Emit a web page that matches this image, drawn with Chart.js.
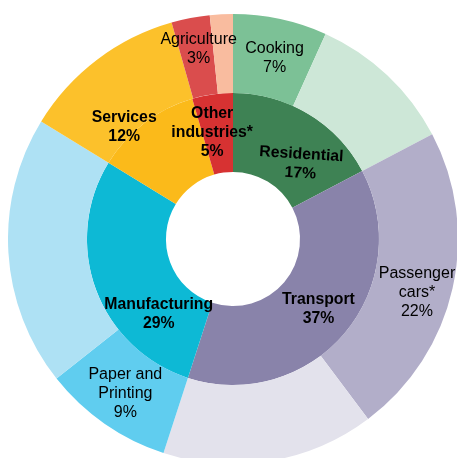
<!DOCTYPE html>
<html>
<head>
<meta charset="utf-8">
<script src="https://cdn.jsdelivr.net/npm/chart.js@4/dist/chart.umd.min.js"></script>
<style>
  html, body { margin: 0; padding: 0; background: #fff; overflow: hidden; width: 457px; height: 458px; }
  #wrap { position: absolute; left: 8px; top: 14px; width: 450px; height: 450px; }
</style>
</head>
<body>
<div id="wrap"><canvas id="chart"></canvas></div>
<script>
'use strict';

// ─── 데이터: 안쪽 링 (부문, 그림에서 읽은 각도 기준 %) ──────────────────────
const innerLabels = ['Residential', 'Transport', 'Manufacturing', 'Services', 'Other industries*'];
const innerValues = [17.3, 37.7, 28.75, 11.75, 4.5];
const innerColors = ['#3E8254', '#8983AA', '#0DB9D5', '#FBBA1A', '#D73232'];

// ─── 데이터: 바깥 링 (세부) ───────────────────────────────────────────────
const outerLabels = ['Cooking', 'Residential other', 'Passenger cars*', 'Transport other',
                     'Paper and Printing', 'Manufacturing other', 'Services', 'Agriculture', 'Other industries other'];
const outerValues = [6.75, 10.55, 22.45, 15.25, 9.35, 19.4, 11.85, 2.75, 1.65];
const outerColors = ['#7CC196', '#CDE7D7', '#B2AEC9', '#E3E2EC',
                     '#60CDEF', '#AEE1F4', '#FCC12B', '#DA4D4D', '#F9BC9F'];

// 표시 텍스트 (null = 라벨 없음)
const innerText = [['Residential', '17%'], ['Transport', '37%'], ['Manufacturing', '29%'],
                   ['Services', '12%'], ['Other', 'industries*', '5%']];
const outerText = [['Cooking', '7%'], null, ['Passenger', 'cars*', '22%'], null,
                   ['Paper and', 'Printing', '9%'], null, null, ['Agriculture', '3%'], null];

// ─── 라벨 위치 보정 (arc 중심 기준 px) ────────────────────────────────────
const innerShift = [{ dx: 12.7, dy: 16, rot: 3.5 }, { dx: 4, dy: 1.3 }, { dx: 25.7, dy: 38.6 },
                    { dx: -44.2, dy: -27.3 }, { dx: -5.8, dy: -1.3 }];
const outerShift = [{ dx: 2.5, dy: 0 }, null, { dx: 3, dy: 13 }, null,
                    { dx: -1.7, dy: 2.7 }, null, null, { dx: 0.7, dy: -7.8 }, null];

const labelPlugin = {
  id: 'ringLabels',
  afterDatasetsDraw(chart) {
    const ctx = chart.ctx;
    const draw = (dsIdx, texts, shifts, font) => {
      const meta = chart.getDatasetMeta(dsIdx);
      meta.data.forEach((arc, i) => {
        const lines = texts[i];
        if (!lines) return;
        const p = arc.getCenterPoint();
        const s = shifts[i] || { dx: 0, dy: 0 };
        const lh = 19;
        ctx.save();
        ctx.translate(p.x + s.dx, p.y + s.dy);
        if (s.rot) ctx.rotate(s.rot * Math.PI / 180);
        ctx.font = font;
        ctx.fillStyle = '#000';
        ctx.textAlign = 'center';
        ctx.textBaseline = 'middle';
        const y0 = -(lines.length - 1) * lh / 2;
        lines.forEach((t, k) => ctx.fillText(t, 0, y0 + k * lh));
        ctx.restore();
      });
    };
    draw(0, outerText, outerShift, '16px "Liberation Sans", Arial, sans-serif');
    draw(1, innerText, innerShift, 'bold 15.8px "Liberation Sans", Arial, sans-serif');
  }
};

new Chart(document.getElementById('chart'), {
  type: 'doughnut',
  data: {
    labels: outerLabels,
    datasets: [
      { data: outerValues, backgroundColor: outerColors, borderWidth: 0 },
      { data: innerValues, backgroundColor: innerColors, borderWidth: 0 }
    ]
  },
  options: {
    responsive: true,
    maintainAspectRatio: false,
    animation: false,
    cutout: '29.8%',
    layout: { padding: 0 },
    plugins: { legend: { display: false }, tooltip: { enabled: false } }
  },
  plugins: [labelPlugin]
});
</script>
</body>
</html>
